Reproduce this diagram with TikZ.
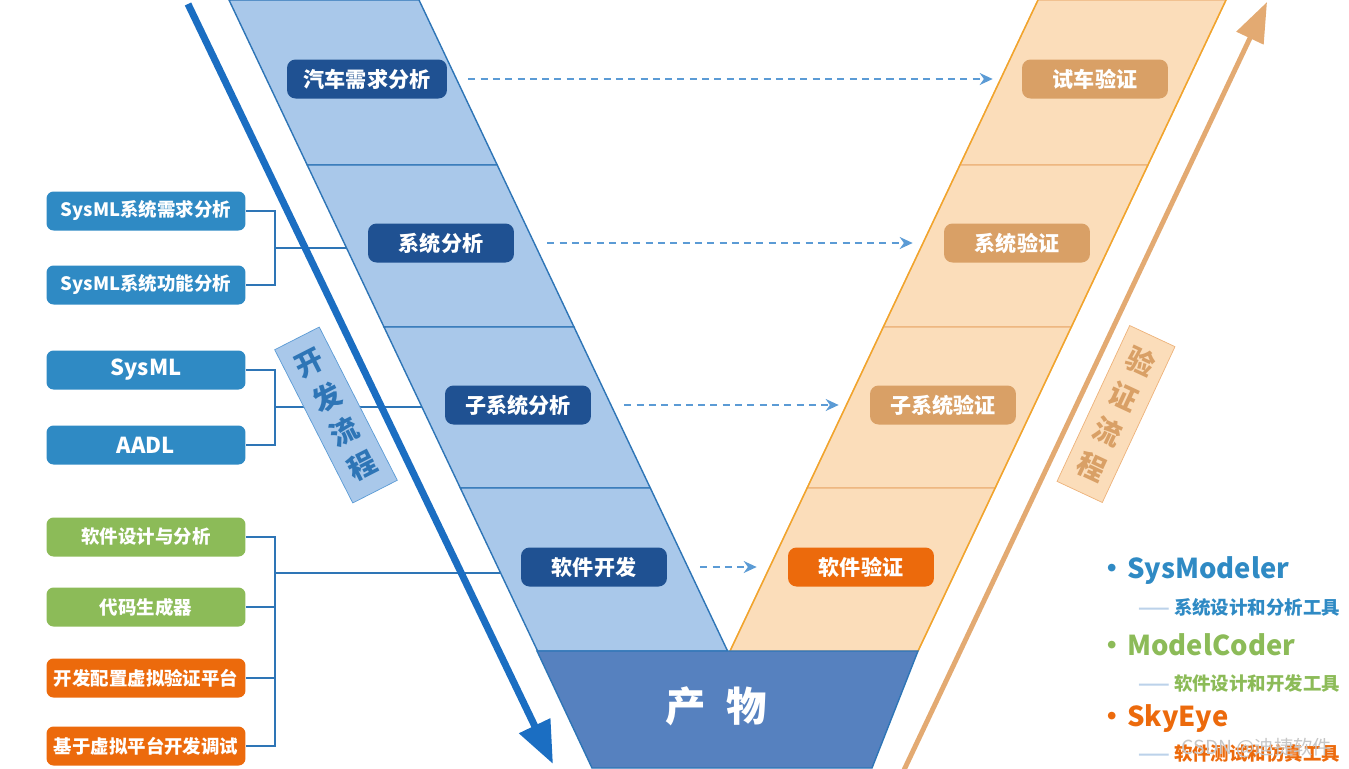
\documentclass[tikz,border=0pt]{standalone}
\usepackage{fontspec}
\setmainfont{Noto Sans CJK SC}
\usepackage{xcolor}
\usepackage{tikz}
\usetikzlibrary{positioning, arrows.meta, calc}

\definecolor{bandblue}{HTML}{A9C8EA}
\definecolor{edgeblue}{HTML}{2E75B6}
\definecolor{darkblue}{HTML}{1F5192}
\definecolor{toolblue}{HTML}{2F8AC4}
\definecolor{toolgreen}{HTML}{8CBB58}
\definecolor{toolorange}{HTML}{EC6A0C}
\definecolor{bandpeach}{HTML}{FBDDBA}
\definecolor{edgegold}{HTML}{F2A52A}
\definecolor{edgepeach}{HTML}{EDB27A}
\definecolor{tanbox}{HTML}{D9A066}
\definecolor{prodblue}{HTML}{5681BF}
\definecolor{arrowblue}{HTML}{1B6EC2}
\definecolor{arrowtan}{HTML}{E3AA72}
\definecolor{dashblue}{HTML}{5B9BD5}
\definecolor{dashline}{HTML}{BCD2EA}

\tikzset{
  stage/.style={rounded corners=0.17cm, fill=darkblue, text=white, inner sep=1pt,
    font=\bfseries\fontsize{12pt}{14pt}\selectfont, minimum width=2.92cm, minimum height=0.78cm},
  checkbox/.style={stage, fill=tanbox},
  tool/.style={rounded corners=0.14cm, fill=toolblue, text=white, inner sep=1pt,
    font=\bfseries\fontsize{10.5pt}{12pt}\selectfont, minimum width=3.98cm, minimum height=0.78cm},
  bracket/.style={edgeblue, line width=0.9pt},
  dasharrow/.style={dashblue, line width=0.8pt, dash pattern=on 4pt off 3pt,
    -{Stealth[length=2.6mm,width=2.4mm]}, shorten <=0.66cm, shorten >=0.62cm},
  flowtag/.style={align=center, inner sep=1pt, minimum width=1cm, minimum height=3.44cm,
    font=\bfseries\fontsize{16pt}{22pt}\selectfont},
  legend/.style={anchor=west, font=\bfseries\fontsize{15.6pt}{18pt}\selectfont},
  legendsub/.style={anchor=west, font=\bfseries\fontsize{10.5pt}{12pt}\selectfont},
}

\begin{document}
\begin{tikzpicture}[x=0.02cm, y=-0.02cm]
        \useasboundingbox (0,0) rectangle (1349,768);

        % Left arm of the V (development)
        \foreach \ya/\yb in {0/165,165/327,327/488,488/651}
            \draw[edgeblue, fill=bandblue, line width=0.8pt]
                ({229+0.474*\ya},\ya) -- ({419+0.474*\ya},\ya) -- ({419+0.474*\yb},\yb) -- ({229+0.474*\yb},\yb) -- cycle;

        % Right arm of the V (verification)
        \foreach \ya/\yb in {0/165,165/327,327/488,488/651}
            \draw[edgepeach, fill=bandpeach, line width=0.8pt]
                ({1038-0.473*\ya},\ya) -- ({1226-0.473*\ya},\ya) -- ({1226-0.473*\yb},\yb) -- ({1038-0.473*\yb},\yb) -- cycle;
        \draw[edgegold, line width=0.8pt] (1038,0) -- (730,651) (1226,0) -- (918,651);

        % Product at the bottom
        \draw[edgeblue, fill=prodblue, line width=0.8pt] (537,651) -- (918,651) -- (872,768) -- (592,768) -- cycle;
        \node[text=white, font=\bfseries\fontsize{23pt}{26pt}\selectfont] (prod) at (716,706) {产\hspace{0.5em}物};

        % Development stages
        \node[stage, minimum width=3.2cm] (req) at (367,79) {汽车需求分析};
        \node[stage] (sys) at (441,243) {系统分析};
        \node[stage] (sub) at (518,405) {子系统分析};
        \node[stage] (sw) at (594,567) {软件开发};

        % Verification stages
        \node[checkbox] (car) at (1095,79) {试车验证};
        \node[checkbox] (sysv) at (1017,243) {系统验证};
        \node[checkbox] (subv) at (943,405) {子系统验证};
        \node[checkbox, fill=toolorange] (swv) at (861,567) {软件验证};

        % Dashed links between the two arms
        \draw[dasharrow, shorten <=0.42cm, shorten >=0.58cm] (req) -- (car);
        \draw[dasharrow] (sys) -- (sysv);
        \draw[dasharrow] (sub) -- (subv);
        \draw[dasharrow] (sw) -- (swv);

        % Tools on the left
        \node[tool] (t1) at (146,211) {SysML系统需求分析};
        \node[tool] (t2) at (146,285) {SysML系统功能分析};
        \node[tool, font=\bfseries\fontsize{12.5pt}{14pt}\selectfont] (t3) at (146,370) {SysML};
        \node[tool, font=\bfseries\fontsize{12.5pt}{14pt}\selectfont] (t4) at (146,445) {AADL};
        \node[tool, fill=toolgreen] (t5) at (146,537) {软件设计与分析};
        \node[tool, fill=toolgreen] (t6) at (146,607) {代码生成器};
        \node[tool, fill=toolorange] (t7) at (146,678) {开发配置虚拟验证平台};
        \node[tool, fill=toolorange] (t8) at (146,746) {基于虚拟平台开发调试};

        % Brackets from the tools to the left arm
        \coordinate (j1) at (275,248);
        \coordinate (e1) at ({229+0.474*248},248);
        \coordinate (j2) at (275,407);
        \coordinate (e2) at ({229+0.474*407},407);
        \coordinate (j3) at (275,573);
        \coordinate (e3) at ({229+0.474*573},573);
        \draw[bracket] (t1.east) -- ++(29,0) |- (t2.east);
        \draw[bracket] (j1) -- (e1);
        \draw[bracket] (t3.east) -- ++(29,0) |- (t4.east);
        \draw[bracket] (j2) -- (e2);
        \draw[bracket] (t5.east) -- ++(29,0) |- (t8.east);
        \draw[bracket] (t6.east) -- ++(29,0);
        \draw[bracket] (t7.east) -- ++(29,0);
        \draw[bracket] (j3) -- (e3);

        % Process arrows
        \draw[arrowblue, line width=4pt, -{Triangle[length=0.85cm,width=0.66cm]}] (188,4) -- (553,764);
        \draw[arrowtan, line width=2.8pt, -{Triangle[length=0.8cm,width=0.58cm]}] (904,770) -- (1267,2);

        % Process labels
        \node[flowtag, draw=dashblue, fill=bandblue, text=edgeblue, rotate=27] (dev) at (336,415) {开\\发\\流\\程};
        \node[flowtag, draw=edgepeach, fill=bandpeach, text=tanbox, rotate=-25] (ver) at (1116,414) {验\\证\\流\\程};

        % Legend of the tool suites
        \node[legend, text=toolblue] (lg1) at (1092,571) {•\kern1pt SysModeler};
        \node[legendsub, text=toolblue] (ld1) at (1132,607) {\textcolor{dashline}{——}\ 系统设计和分析工具};
        \node[legend, text=toolgreen] (lg2) at (1092,645) {•\kern1pt ModelCoder};
        \node[legendsub, text=toolgreen] (ld2) at (1132,683) {\textcolor{dashline}{——}\ 软件设计和开发工具};
        \node[legend, text=toolorange] (lg3) at (1092,719) {•\kern1pt SkyEye};
        \node[legendsub, text=toolorange] (ld3) at (1132,753) {\textcolor{dashline}{——}\ 软件测试和仿真工具};

        % Watermark
        \node[text=gray!45, font=\fontsize{11pt}{13pt}\selectfont] (wm) at (1257,748) {CSDN @迪捷软件};
    \end{tikzpicture}
\end{document}
